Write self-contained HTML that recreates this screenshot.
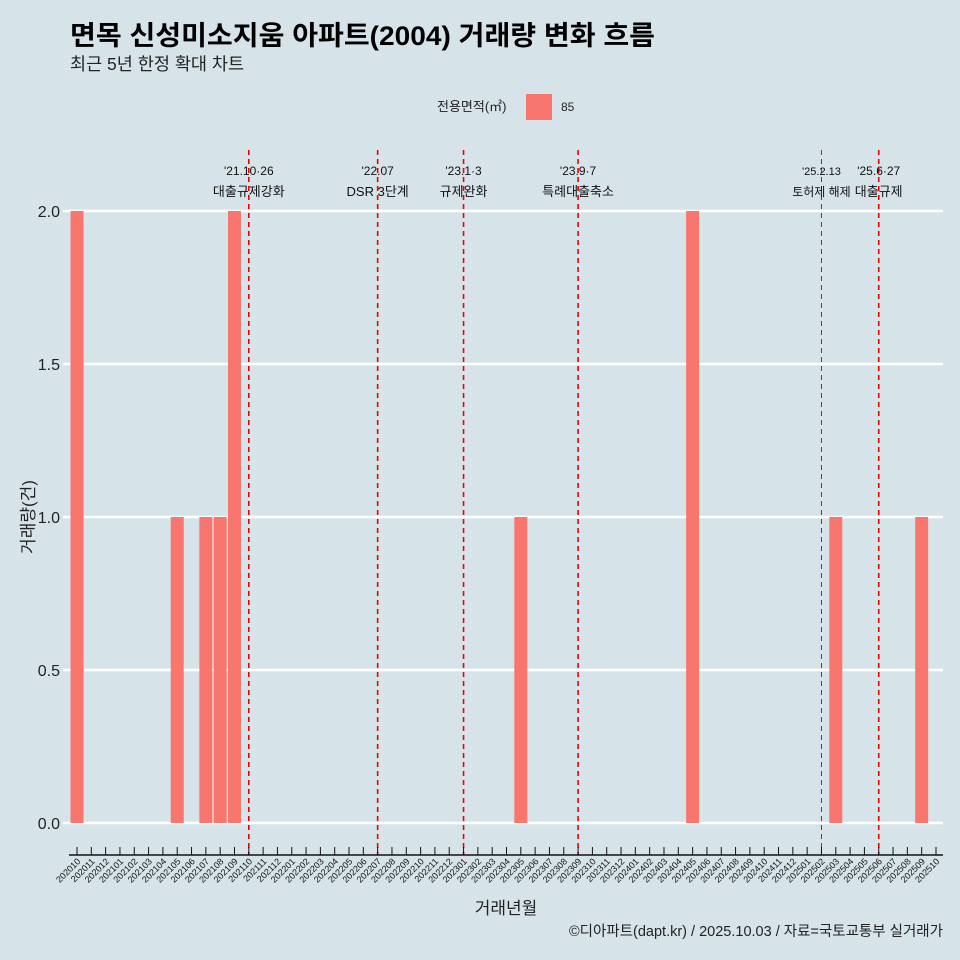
<!DOCTYPE html>
<html><head><meta charset="utf-8"><style>
html,body{margin:0;padding:0;background:#d6e4ea;overflow:hidden;width:960px;height:960px;}
svg{display:block;}
svg text{font-family:"Liberation Sans","Noto Sans CJK KR",sans-serif;}
</style></head><body>
<svg id="c" width="960" height="960" viewBox="0 0 960 960">
<rect width="960" height="960" fill="#d6e4ea"/>
<text x="70" y="45" font-size="27" font-weight="bold" fill="#000" textLength="585" lengthAdjust="spacingAndGlyphs">면목 신성미소지움 아파트(2004) 거래량 변화 흐름</text>
<text x="70" y="70" font-size="17.5" fill="#222">최근 5년 한정 확대 차트</text>
<g>
<text x="437" y="111" font-size="13" fill="#222">전용면적(㎡)</text>
<rect x="526" y="94" width="26" height="26" fill="#f8766d"/>
<text x="561" y="111" font-size="12" fill="#222">85</text>
</g>
<g id="grid"></g><g id="bars"></g><g id="vlines"></g><g id="xaxis"></g>
<text transform="translate(34,517) rotate(-90)" text-anchor="middle" font-size="17" fill="#222">거래량(건)</text>
<text x="506" y="914" text-anchor="middle" font-size="17" fill="#222">거래년월</text>
<text x="943" y="936" text-anchor="end" font-size="14.5" fill="#222">©디아파트(dapt.kr) / 2025.10.03 / 자료=국토교통부 실거래가</text>
</svg>
<script>
const months=[];for(let y=2020,m=10;y*100+m<=202510;){months.push(String(y*100+m));m++;if(m>12){m=1;y++;}}
const barMonths=["202010","202105","202107","202108","202109","202305","202405","202503","202509"];
const barValues=[2,1,1,1,2,1,2,1,1];
const yTicks=[0,0.5,1,1.5,2];
const yTickLabels=["0.0","0.5","1.0","1.5","2.0"];
const eventMonths=["202110","202207","202301","202309","202502","202506"];
const eventDates=["'21.10·26","'22.07","'23.1·3","'23.9·7","'25.2.13","'25.6·27"];
const eventNames=["대출규제강화","DSR 3단계","규제완화","특례대출축소","토허제 해제","대출규제"];
const NS="http://www.w3.org/2000/svg";
const x=i=>77+i*(936-77)/(months.length-1);
const y=v=>823-v*306;
function mk(t,a,p){const e=document.createElementNS(NS,t);for(const k in a)e.setAttribute(k,a[k]);document.getElementById(p).appendChild(e);return e;}
yTicks.forEach((v,i)=>{
 const l=mk('line',{x1:63,x2:943,y1:y(v),y2:y(v),stroke:'#fff','stroke-width':2.5},'grid');
 
 
 const t=mk('text',{x:60,y:y(v)+6,'text-anchor':'end','font-size':16,fill:'#222'},'grid');t.textContent=yTickLabels[i];
 
 
});
barMonths.forEach((m,i)=>{
 const cx=x(months.indexOf(m));
 const r=mk('rect',{x:cx-6.5,y:y(barValues[i]),width:13,height:y(0)-y(barValues[i]),fill:'#f8766d'},'bars');
 
 
});
eventMonths.forEach((m,i)=>{
 const cx=x(months.indexOf(m));
 const l=mk('line',{x1:cx,x2:cx,y1:150,y2:855,stroke:'#e00',"stroke-width":i==4?1:1.6,'stroke-dasharray':'5,4'},'vlines');
 
 
 const fs=i==4?11:12;
 const t1=mk('text',{x:cx,y:175,'text-anchor':'middle','font-size':fs,fill:'#111'},'vlines');t1.textContent=eventDates[i];
 
 
 const t2=mk('text',{x:cx,y:196,'text-anchor':'middle','font-size':fs+1,fill:'#111'},'vlines');t2.textContent=eventNames[i];
 
 
});
const ax=mk('line',{x1:69,x2:943,y1:855,y2:855,stroke:'#111','stroke-width':1.5},'xaxis');


months.forEach((m,i)=>{
 const cx=x(i);
 const tk=mk('line',{x1:cx,x2:cx,y1:847,y2:855,stroke:'#111'},'xaxis');
 
 
 const t=mk('text',{transform:`translate(${cx+4},${862}) rotate(-45)`,'text-anchor':'end','font-size':9,fill:'#111'},'xaxis');t.textContent=m;
 
 
});
</script>
</body></html>
